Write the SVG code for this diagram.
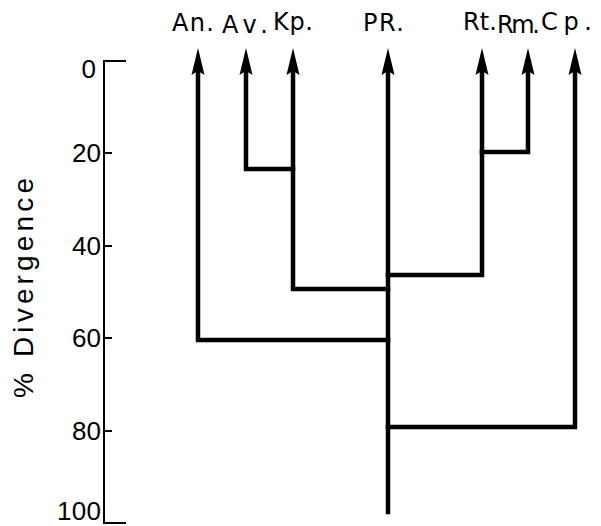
<svg xmlns="http://www.w3.org/2000/svg" width="601" height="526" viewBox="0 0 601 526">
<style>
.lbl{font-family:"DejaVu Sans","Liberation Sans",Arial,sans-serif;font-size:24px;fill:#000}
.tk{font-family:"Liberation Sans",Arial,sans-serif;font-size:26px;fill:#000;text-anchor:end}
.ax{fill:none;stroke:#000;stroke-width:2}
.br{fill:none;stroke:#000;stroke-width:4.5;stroke-linejoin:miter;stroke-linecap:square}
</style>
<defs>
<path id="ah" d="M0,0 L6.5,27 L0,23 L-6.5,27 Z" fill="#000"/>
</defs>
<rect width="601" height="526" fill="#fff"/>
<g id="axis">
<path class="ax" d="M126,61 H104 V523 H126 M104,153 H112 M104,246 H112 M104,338 H112 M104,431 H112"/>
<text class="tk" x="96" y="78">0</text>
<text class="tk" x="101" y="162">20</text>
<text class="tk" x="101" y="255">40</text>
<text class="tk" x="101" y="347">60</text>
<text class="tk" x="101" y="440">80</text>
<text class="tk" x="101" y="520" textLength="44">100</text>
<text transform="translate(33,288) rotate(-90)" font-family="Liberation Sans, Arial, sans-serif" font-size="28" text-anchor="middle" textLength="220">% Divergence</text>
</g>
<g id="connectors">
<path class="br" d="M198,72 V340 H388"/>
<path class="br" d="M246,72 V169 H293"/>
<path class="br" d="M293,72 V289 H388"/>
<path class="br" d="M388,72 V512"/>
<path class="br" d="M388,275 H482 V72"/>
<path class="br" d="M482,152 H528 V72"/>
<path class="br" d="M388,427 H575 V72"/>
</g>
<g id="An"><use href="#ah" x="198" y="48"/><text class="lbl" x="172" y="31" textLength="42">An.</text></g>
<g id="Av"><use href="#ah" x="246" y="48"/><text class="lbl" x="222" y="33" textLength="46">Av.</text></g>
<g id="Kp"><use href="#ah" x="293" y="48"/><text class="lbl" x="273" y="30" textLength="40">Kp.</text></g>
<g id="PR"><use href="#ah" x="388" y="48"/><text class="lbl" x="363" y="31" textLength="41">PR.</text></g>
<g id="Rt"><use href="#ah" x="482" y="48"/><text class="lbl" x="463" y="30" textLength="34">Rt.</text></g>
<g id="Rm"><use href="#ah" x="528" y="48"/><text class="lbl" x="497" y="33" font-size="22" textLength="43">Rm.</text></g>
<g id="Cp"><use href="#ah" x="575" y="48"/><text class="lbl" x="541" y="30" textLength="51">Cp.</text></g>
</svg>
